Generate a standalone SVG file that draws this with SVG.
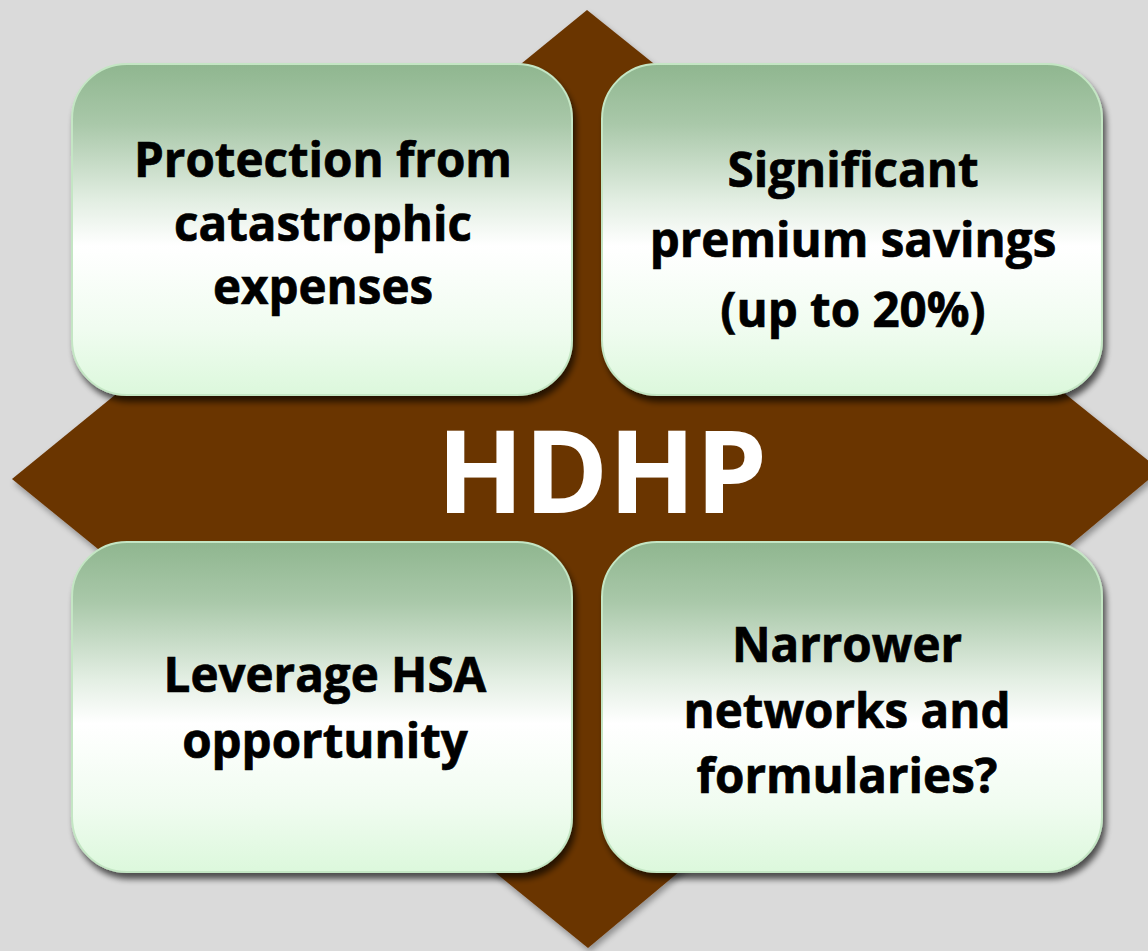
<svg xmlns="http://www.w3.org/2000/svg" width="1148" height="951" viewBox="0 0 1148 951">
  <defs>
    <linearGradient id="boxFill" x1="0" y1="0" x2="0" y2="1">
      <stop offset="0" stop-color="#8fb68f"/>
      <stop offset="0.18" stop-color="#a9c8a9"/>
      <stop offset="0.42" stop-color="#e4efe4"/>
      <stop offset="0.55" stop-color="#ffffff"/>
      <stop offset="0.8" stop-color="#f0fcf0"/>
      <stop offset="1" stop-color="#dcf8dc"/>
    </linearGradient>
    <filter id="boxShadow" x="-10%" y="-10%" width="125%" height="130%">
      <feGaussianBlur in="SourceAlpha" stdDeviation="3"/>
      <feOffset dx="3" dy="6" result="blur"/>
      <feComponentTransfer in="blur" result="shade">
        <feFuncA type="linear" slope="0.65"/>
      </feComponentTransfer>
      <feMerge>
        <feMergeNode in="shade"/>
        <feMergeNode in="SourceGraphic"/>
      </feMerge>
    </filter>
    <filter id="softShadow" x="-5%" y="-5%" width="110%" height="110%">
      <feGaussianBlur in="SourceAlpha" stdDeviation="3"/>
      <feOffset dx="2" dy="4" result="blur"/>
      <feComponentTransfer in="blur" result="shade">
        <feFuncA type="linear" slope="0.35"/>
      </feComponentTransfer>
      <feMerge>
        <feMergeNode in="shade"/>
        <feMergeNode in="SourceGraphic"/>
      </feMerge>
    </filter>
  </defs>
  <style>
    .box { fill: url(#boxFill); stroke: #c4e6c4; stroke-width: 2; filter: url(#boxShadow); }
    .label { font-family: "Open Sans", "Liberation Sans", sans-serif; font-weight: 700; font-size: 47.5px; fill: #000000; stroke: #000000; stroke-width: 0.7px; text-anchor: middle; }
    .title { font-family: "Open Sans", "Liberation Sans", sans-serif; font-weight: 700; font-size: 114px; fill: #ffffff; text-anchor: middle; }
  </style>

  <rect width="1148" height="951" fill="#dadada"/>

  <!-- central diamond -->
  <g id="hdhp">
    <polygon points="587,10 1160,470 588,948 12,479" fill="#6b3506" filter="url(#softShadow)"/>
  </g>

  <g id="protection">
    <rect class="box" x="72" y="64" width="500" height="331" rx="55" ry="55"/>
    <text class="label" x="323" y="177">Protection from</text>
    <text class="label" x="323" y="241">catastrophic</text>
    <text class="label" x="323" y="304">expenses</text>
  </g>

  <g id="savings">
    <rect class="box" x="602" y="64" width="500" height="331" rx="55" ry="55"/>
    <text class="label" x="853" y="187">Significant</text>
    <text class="label" x="853" y="257">premium savings</text>
    <text class="label" x="853" y="327">(up to 20%)</text>
  </g>

  <g id="hsa">
    <rect class="box" x="72" y="542" width="500" height="330" rx="55" ry="55"/>
    <text class="label" x="325" y="692">Leverage HSA</text>
    <text class="label" x="325" y="758">opportunity</text>
  </g>

  <g id="networks">
    <rect class="box" x="602" y="542" width="500" height="330" rx="55" ry="55"/>
    <text class="label" x="847" y="662">Narrower</text>
    <text class="label" x="847" y="728">networks and</text>
    <text class="label" x="847" y="793">formularies?</text>
  </g>

  <g id="title">
    <text class="title" x="602" y="513">HDHP</text>
  </g>
</svg>
